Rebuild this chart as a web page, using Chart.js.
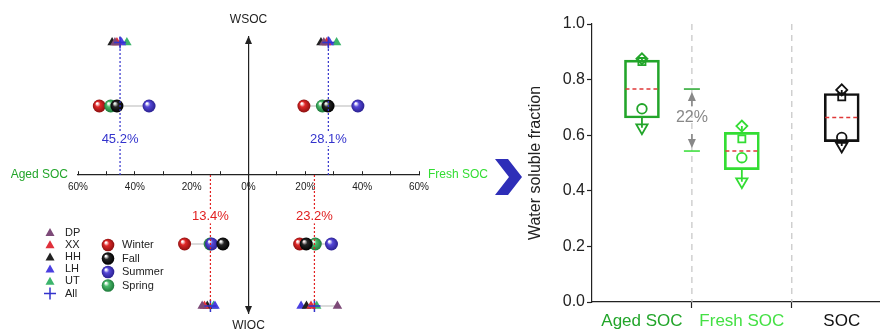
<!DOCTYPE html>
<html>
<head>
<meta charset="utf-8">
<script src="https://cdn.jsdelivr.net/npm/chart.js@4.4.0/dist/chart.umd.min.js"></script>
<style>
  html, body { margin: 0; padding: 0; background: #fff; }
  #wrap { position: relative; width: 880px; height: 332px; overflow: hidden; }
  #left { position: absolute; left: 0; top: 0; }
  #right { position: absolute; left: 520px; top: 0; }
  #chev { position: absolute; left: 490px; top: 155px; }
</style>
</head>
<body>
<div id="wrap">
  <canvas id="left" width="500" height="332"></canvas>
  <svg id="chev" width="40" height="45"><polygon points="5,4 18,4 32,22 18,40 5,40 19,22" fill="#2e2eb8"/></svg>
  <canvas id="right" width="368" height="332"></canvas>
</div>
<script>
// ---- left panel data (percent) ----
const quadrantNames = ['Aged WSOC', 'Fresh WSOC', 'Aged WIOC', 'Fresh WIOC'];
const sites = ['DP', 'XX', 'HH', 'LH', 'UT'];
const seasons = ['Winter', 'Fall', 'Summer', 'Spring'];
const xTickValues = [-60, -50, -40, -30, -20, -10, 0, 10, 20, 30, 40, 50, 60];

// one value per site, per quadrant
const agedWsocSite = [47.0, 46.3, 48.0, 44.7, 42.8];
const freshWsocSite = [26.5, 27.5, 25.5, 28.5, 31.0];
const agedWiocSite = [16.3, 15.5, 14.5, 11.8, 12.3];
const freshWiocSite = [31.3, 22.0, 20.4, 18.5, 24.0];

// one value per season, per quadrant
const agedWsocSeason = [52.5, 46.3, 35.0, 48.5];
const freshWsocSeason = [19.5, 28.0, 38.5, 26.0];
const agedWiocSeason = [22.5, 9.0, 13.0, 13.5];
const freshWiocSeason = [18.0, 20.3, 29.2, 23.5];

// all-site mean per quadrant
const allMean = [45.2, 28.1, 13.4, 23.2];

// ---- right panel data ----
const boxCats = ['Aged SOC', 'Fresh SOC', 'SOC'];
const boxLow = [0.662, 0.476, 0.577];
const boxHigh = [0.870, 0.610, 0.750];
const boxMedian = [0.766, 0.543, 0.664];
const diamondVals = [0.875, 0.633, 0.763];
const squareVals = [0.865, 0.587, 0.738];
const circleVals = [0.695, 0.519, 0.592];
const triangleVals = [0.627, 0.433, 0.561];
const yTickValues = [0, 0.2, 0.4, 0.6, 0.8, 1.0];

// ---- styles / layout ----
const FONT = 'Liberation Sans, Arial, Helvetica, sans-serif';
Chart.defaults.font.family = FONT;
Chart.defaults.color = '#222';

const siteColors = ['#7d4a78', '#e0303a', '#222222', '#4a3fe0', '#3cb46c'];
const seasonColors = ['#e02828', '#262626', '#5548d8', '#4cba6c'];
const seasonDark = ['#8c1010', '#000000', '#2a2090', '#1e7a3a'];
const seasonOrder = [4, 1, 2, 3];   // lower order is drawn on top
const allColor = '#3333cc';
const agedGreen = '#22a52a';
const freshGreen = '#33dd33';

const quadSite = [agedWsocSite, freshWsocSite, agedWiocSite, freshWiocSite];
const quadSeason = [agedWsocSeason, freshWsocSeason, agedWiocSeason, freshWiocSeason];
const quadSign = [-1, 1, -1, 1];
const siteRowY = [1.92, 1.92, -1.9, -1.9];
const seasonRowY = [1, 1, -1, -1];
const meanLineEnd = [2, 2, -1.97, -1.97];
const meanLabelY = [0.52, 0.52, -0.6, -0.6];
const meanColor = ['#3333cc', '#3333cc', '#e02020', '#e02020'];

function sphereFill(c2d, px, py, r, color, dark) {
  const g = c2d.createRadialGradient(px - r * 0.35, py - r * 0.4, r * 0.1, px, py, r);
  g.addColorStop(0, 'rgba(255,255,255,0.9)');
  g.addColorStop(0.35, color);
  g.addColorStop(1, dark);
  return g;
}

const leftDatasets = [];

// gray connecting lines for each row
quadSite.forEach((vals, q) => {
  const all = vals.concat([allMean[q]]);
  leftDatasets.push({
    type: 'line', data: [
      { x: quadSign[q] * Math.min(...all), y: siteRowY[q] },
      { x: quadSign[q] * Math.max(...all), y: siteRowY[q] }],
    borderColor: '#cfcfcf', borderWidth: 1.5, pointRadius: 0, order: 100, clip: false
  });
});
quadSeason.forEach((vals, q) => {
  leftDatasets.push({
    type: 'line', data: [
      { x: quadSign[q] * Math.min(...vals), y: seasonRowY[q] },
      { x: quadSign[q] * Math.max(...vals), y: seasonRowY[q] }],
    borderColor: '#cfcfcf', borderWidth: 1.5, pointRadius: 0, order: 100, clip: false
  });
});

sites.forEach((s, i) => {
  leftDatasets.push({
    label: s,
    data: quadSite.map((vals, q) => ({ x: quadSign[q] * vals[i], y: siteRowY[q] })),
    pointStyle: 'triangle', pointRadius: 5.5, pointBorderWidth: 0,
    pointBackgroundColor: siteColors[i], order: 10 + i, clip: false
  });
});

seasons.forEach((s, i) => {
  leftDatasets.push({
    label: s,
    data: quadSeason.map((vals, q) => ({ x: quadSign[q] * vals[i], y: seasonRowY[q] })),
    pointStyle: 'circle', pointRadius: 6.5, pointBorderWidth: 0,
    pointBackgroundColor: (c) => {
      const ch = c.chart, p = c.raw;
      if (!p || !ch.scales || !ch.scales.x) return seasonColors[i];
      const px = ch.scales.x.getPixelForValue(p.x), py = ch.scales.y.getPixelForValue(p.y);
      if (!isFinite(px) || !isFinite(py)) return seasonColors[i];
      return sphereFill(ch.ctx, px, py, 6.5, seasonColors[i], seasonDark[i]);
    },
    order: seasonOrder[i], clip: false
  });
});

leftDatasets.push({
  label: 'All',
  data: allMean.map((v, q) => ({ x: quadSign[q] * v, y: siteRowY[q] })),
  pointStyle: 'cross', pointRadius: 6, pointBorderWidth: 1.5,
  pointBorderColor: allColor, order: 0, clip: false
});

const leftDecor = {
  id: 'leftDecor',
  afterDatasetsDraw(chart) {
    const { ctx, scales: { x, y } } = chart;
    const y0 = y.getPixelForValue(0);
    ctx.save();
    allMean.forEach((v, q) => {
      const px = x.getPixelForValue(quadSign[q] * v);
      ctx.strokeStyle = meanColor[q];
      ctx.lineWidth = 1.2;
      ctx.setLineDash([2, 2]);
      ctx.beginPath();
      ctx.moveTo(px, y0);
      ctx.lineTo(px, y.getPixelForValue(meanLineEnd[q]));
      ctx.stroke();
      ctx.setLineDash([]);
      // label with white backing
      const label = v.toFixed(1) + '%';
      ctx.font = '13px ' + FONT;
      const ly = y.getPixelForValue(meanLabelY[q]);
      const w = ctx.measureText(label).width;
      ctx.fillStyle = '#fff';
      ctx.fillRect(px - w / 2 - 1, ly - 7, w + 2, 14);
      ctx.fillStyle = meanColor[q];
      ctx.textAlign = 'center';
      ctx.textBaseline = 'middle';
      ctx.fillText(label, px, ly);
    });
    ctx.restore();
  },
  afterDraw(chart) {
    const { ctx, chartArea, scales: { x, y } } = chart;
    const cx = x.getPixelForValue(0);
    const y0 = y.getPixelForValue(0);
    ctx.save();
    // arrow heads
    ctx.fillStyle = '#222';
    ctx.beginPath();
    ctx.moveTo(cx, chartArea.top - 1); ctx.lineTo(cx - 3.5, chartArea.top + 7); ctx.lineTo(cx + 3.5, chartArea.top + 7);
    ctx.closePath(); ctx.fill();
    ctx.beginPath();
    ctx.moveTo(cx, chartArea.bottom + 1); ctx.lineTo(cx - 3.5, chartArea.bottom - 7); ctx.lineTo(cx + 3.5, chartArea.bottom - 7);
    ctx.closePath(); ctx.fill();

    ctx.font = '12px ' + FONT;
    ctx.textBaseline = 'middle';
    ctx.textAlign = 'center';
    ctx.fillStyle = '#222';
    ctx.fillText('WSOC', cx, chartArea.top - 17);
    ctx.fillText('WIOC', cx, chartArea.bottom + 13);
    ctx.textAlign = 'right';
    ctx.fillStyle = agedGreen;
    ctx.fillText('Aged SOC', chartArea.left - 10, y0);
    ctx.textAlign = 'left';
    ctx.fillStyle = freshGreen;
    ctx.fillText('Fresh SOC', chartArea.right + 9, y0);

    // legend: sites
    ctx.font = '11px ' + FONT;
    const legendRows = sites.concat(['All']);
    legendRows.forEach((s, i) => {
      const lx = 50, ly = 232.5 + i * 12.2;
      if (i < sites.length) {
        ctx.fillStyle = siteColors[i];
        ctx.beginPath();
        ctx.moveTo(lx, ly - 4.5); ctx.lineTo(lx - 4.5, ly + 3.5); ctx.lineTo(lx + 4.5, ly + 3.5);
        ctx.closePath(); ctx.fill();
      } else {
        ctx.strokeStyle = allColor; ctx.lineWidth = 1.5;
        ctx.beginPath();
        ctx.moveTo(lx - 6, ly); ctx.lineTo(lx + 6, ly);
        ctx.moveTo(lx, ly - 6); ctx.lineTo(lx, ly + 6);
        ctx.stroke();
      }
      ctx.fillStyle = '#222';
      ctx.textAlign = 'left';
      ctx.fillText(s, 65, ly);
    });
    // legend: seasons
    seasons.forEach((s, i) => {
      const lx = 108, ly = 245 + i * 13.5;
      ctx.fillStyle = sphereFill(ctx, lx, ly, 6.3, seasonColors[i], seasonDark[i]);
      ctx.beginPath(); ctx.arc(lx, ly, 6.3, 0, Math.PI * 2); ctx.fill();
      ctx.fillStyle = '#222';
      ctx.fillText(s, 122, ly);
    });
    ctx.restore();
  }
};

new Chart(document.getElementById('left'), {
  type: 'scatter',
  data: { datasets: leftDatasets },
  options: {
    responsive: false,
    animation: false,
    events: [],
    layout: { padding: { left: 78, right: 81, top: 37, bottom: 19 } },
    plugins: { legend: { display: false }, tooltip: { enabled: false } },
    scales: {
      x: {
        type: 'linear', min: -60, max: 60, offset: false,
        position: { y: 0 },
        afterFit: (s) => { s.height = 0; },
        afterBuildTicks: (s) => { s.ticks = xTickValues.map(v => ({ value: v })); },
        ticks: {
          autoSkip: false, maxRotation: 0, padding: 10,
          font: { size: 10 }, color: '#222',
          callback: (v) => (v % 20 === 0 ? Math.abs(v) + '%' : '')
        },
        grid: { drawOnChartArea: false, tickLength: -4, tickColor: '#222', tickWidth: 1 },
        border: { color: '#222', width: 1.2 }
      },
      y: {
        type: 'linear', min: -2, max: 2,
        position: { x: 0 },
        afterFit: (s) => { s.width = 0; },
        ticks: { display: false },
        grid: { drawOnChartArea: false, drawTicks: false },
        border: { color: '#222', width: 1.2 }
      }
    }
  },
  plugins: [leftDecor]
});

// ---- right panel ----
const boxPos = [1, 3, 5];
const separators = [2, 4];
const boxColors = [agedGreen, freshGreen, '#111111'];
const boxLabelColors = [agedGreen, '#44e044', '#111111'];

const markerSets = [
  { vals: diamondVals, style: 'rectRot', r: 5.5, rot: 0 },
  { vals: squareVals, style: 'rect', r: 5, rot: 0 },
  { vals: circleVals, style: 'circle', r: 4.8, rot: 0 },
  { vals: triangleVals, style: 'triangle', r: 6.5, rot: 180 }
];

const rightDatasets = [{
  type: 'bar',
  data: boxPos.map((p, i) => ({ x: p, y: [boxLow[i], boxHigh[i]] })),
  backgroundColor: 'rgba(0,0,0,0)',
  borderColor: boxColors,
  borderWidth: 2,
  borderSkipped: false,
  barThickness: 35,
  grouped: false,
  order: 10
}];
markerSets.forEach((m) => {
  rightDatasets.push({
    type: 'scatter',
    data: boxPos.map((p, i) => ({ x: p, y: m.vals[i] })),
    pointStyle: m.style, pointRadius: m.r, pointRotation: m.rot,
    pointBorderWidth: 1.8, pointBorderColor: boxColors,
    pointBackgroundColor: 'rgba(255,255,255,0)', order: 1, clip: false
  });
});

const rightDecor = {
  id: 'rightDecor',
  beforeDatasetsDraw(chart) {
    const { ctx, chartArea, scales: { x, y } } = chart;
    ctx.save();
    // separators
    ctx.strokeStyle = '#c4c4c4';
    ctx.lineWidth = 1.2;
    ctx.setLineDash([6, 5]);
    separators.forEach((s) => {
      const px = x.getPixelForValue(s);
      ctx.beginPath(); ctx.moveTo(px, chartArea.top); ctx.lineTo(px, chartArea.bottom); ctx.stroke();
    });
    ctx.setLineDash([]);
    // whiskers
    boxPos.forEach((p, i) => {
      const vals = markerSets.map(m => m.vals[i]);
      const lo = Math.min(...vals), hi = Math.max(...vals);
      const px = x.getPixelForValue(p);
      ctx.strokeStyle = boxColors[i];
      ctx.lineWidth = 1.8;
      ctx.beginPath();
      if (lo < boxLow[i]) { ctx.moveTo(px, y.getPixelForValue(boxLow[i])); ctx.lineTo(px, y.getPixelForValue(lo)); }
      if (hi > boxHigh[i]) { ctx.moveTo(px, y.getPixelForValue(boxHigh[i])); ctx.lineTo(px, y.getPixelForValue(hi)); }
      ctx.stroke();
    });
    ctx.restore();
  },
  afterDatasetsDraw(chart) {
    const { ctx, scales: { x, y } } = chart;
    const meta = chart.getDatasetMeta(0);
    ctx.save();
    // medians
    ctx.strokeStyle = '#e03838';
    ctx.lineWidth = 1.5;
    ctx.setLineDash([4, 3]);
    meta.data.forEach((el, i) => {
      const py = y.getPixelForValue(boxMedian[i]);
      ctx.beginPath(); ctx.moveTo(el.x - el.width / 2 + 1, py); ctx.lineTo(el.x + el.width / 2 - 1, py); ctx.stroke();
    });
    ctx.setLineDash([]);
    // difference annotation between aged and fresh medians
    const sx = x.getPixelForValue(separators[0]);
    const yTop = y.getPixelForValue(boxMedian[0]);
    const yBot = y.getPixelForValue(boxMedian[1]);
    ctx.lineWidth = 1.5;
    ctx.strokeStyle = agedGreen;
    ctx.beginPath(); ctx.moveTo(sx - 8, yTop); ctx.lineTo(sx + 8, yTop); ctx.stroke();
    ctx.strokeStyle = freshGreen;
    ctx.beginPath(); ctx.moveTo(sx - 8, yBot); ctx.lineTo(sx + 8, yBot); ctx.stroke();
    const mid = (yTop + yBot) / 2;
    ctx.strokeStyle = '#888'; ctx.fillStyle = '#888'; ctx.lineWidth = 1.6;
    ctx.beginPath(); ctx.moveTo(sx, mid - 14); ctx.lineTo(sx, yTop + 8); ctx.stroke();
    ctx.beginPath(); ctx.moveTo(sx, yTop + 3); ctx.lineTo(sx - 4, yTop + 12); ctx.lineTo(sx + 4, yTop + 12); ctx.closePath(); ctx.fill();
    ctx.beginPath(); ctx.moveTo(sx, mid + 14); ctx.lineTo(sx, yBot - 8); ctx.stroke();
    ctx.beginPath(); ctx.moveTo(sx, yBot - 3); ctx.lineTo(sx - 4, yBot - 12); ctx.lineTo(sx + 4, yBot - 12); ctx.closePath(); ctx.fill();
    const diff = Math.round((boxMedian[0] - boxMedian[1]) * 100) + '%';
    ctx.font = '16px ' + FONT;
    ctx.textAlign = 'center'; ctx.textBaseline = 'middle';
    ctx.fillText(diff, sx, mid - 2);
    ctx.restore();
  }
};

new Chart(document.getElementById('right'), {
  type: 'scatter',
  data: { datasets: rightDatasets },
  options: {
    responsive: false,
    animation: false,
    events: [],
    layout: { padding: { left: 0, right: 0, top: 24, bottom: 0 } },
    plugins: { legend: { display: false }, tooltip: { enabled: false } },
    scales: {
      x: {
        type: 'linear', min: 0, max: 5.76, offset: false,
        afterFit: (s) => { s.height = 30; },
        afterBuildTicks: (s) => { s.ticks = boxPos.concat(separators).sort().map(v => ({ value: v })); },
        ticks: {
          autoSkip: false, maxRotation: 0, padding: 3,
          font: { size: 17 },
          color: (c) => { const i = boxPos.indexOf(c.tick && c.tick.value); return i >= 0 ? boxLabelColors[i] : '#222'; },
          callback: (v) => { const i = boxPos.indexOf(v); return i >= 0 ? boxCats[i] : ''; }
        },
        grid: {
          offset: false, drawOnChartArea: false, tickLength: 6, tickWidth: 1.2,
          tickColor: (c) => (c.tick && separators.includes(c.tick.value) ? '#222' : 'rgba(0,0,0,0)')
        },
        border: { color: '#222', width: 1.2 }
      },
      y: {
        type: 'linear', min: 0, max: 1,
        afterFit: (s) => { s.width = 72; },
        afterBuildTicks: (s) => { s.ticks = yTickValues.map(v => ({ value: v })); },
        ticks: { font: { size: 16 }, color: '#222', padding: 2, callback: (v) => v.toFixed(1) },
        grid: { drawOnChartArea: false, tickLength: 5, tickColor: '#222', tickWidth: 1.2 },
        border: { color: '#222', width: 1.2 },
        title: { display: true, text: 'Water soluble fraction', font: { size: 16 }, color: '#222', padding: { top: 6, bottom: 0 } }
      }
    }
  },
  plugins: [rightDecor]
});
</script>
</body>
</html>
